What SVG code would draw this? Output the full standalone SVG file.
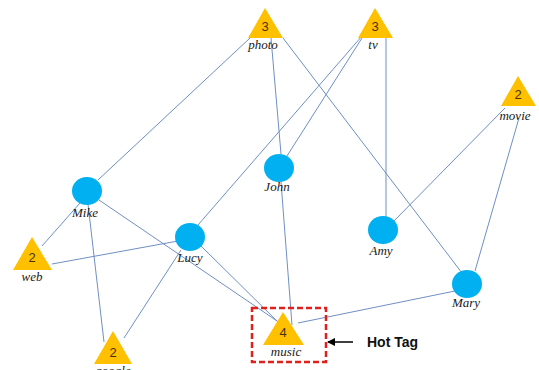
<svg xmlns="http://www.w3.org/2000/svg" width="539" height="370" viewBox="0 0 539 370">
<defs>
<style>
.e{stroke:#6f8fc4;stroke-width:1;fill:none}
.tag{fill:#ffc000}
.usr{fill:#00b0f0}
.num{font-family:"Liberation Sans",Arial,sans-serif;font-size:13px;fill:#4a3200;text-anchor:middle}
.lbl{font-family:"Liberation Serif","Times New Roman",serif;font-style:italic;font-size:13px;fill:#1a1a1a;text-anchor:middle}
.hot{font-family:"Liberation Sans",Arial,sans-serif;font-weight:bold;font-size:14px;fill:#111}
</style>
<marker id="ah" markerWidth="8" markerHeight="8" refX="7" refY="4" orient="auto" markerUnits="userSpaceOnUse">
<path d="M0,0 L8,4 L0,8 z" fill="#000"/>
</marker>
</defs>
<rect width="539" height="370" fill="#fff"/>
<g id="connectors">
<line class="e" x1="250" y1="38" x2="98" y2="180"/>
<line class="e" x1="271" y1="38" x2="281" y2="154"/>
<line class="e" x1="283" y1="38" x2="462" y2="273"/>
<line class="e" x1="362" y1="38" x2="287" y2="156"/>
<line class="e" x1="362" y1="36" x2="198" y2="225"/>
<line class="e" x1="386" y1="38" x2="386" y2="217"/>
<line class="e" x1="505" y1="108" x2="393" y2="222"/>
<line class="e" x1="519" y1="118" x2="475" y2="271"/>
<line class="e" x1="80" y1="203" x2="42" y2="246"/>
<line class="e" x1="88" y1="204" x2="104" y2="342"/>
<line class="e" x1="99" y1="200" x2="280" y2="323"/>
<line class="e" x1="178" y1="241" x2="52" y2="264"/>
<line class="e" x1="181" y1="250" x2="124" y2="338"/>
<line class="e" x1="200" y1="245" x2="281" y2="325"/>
<line class="e" x1="281" y1="182" x2="292" y2="325"/>
<line class="e" x1="455" y1="291" x2="298" y2="323"/>
</g>
<g id="photo"><polygon class="tag" points="265,8 248,38 283,38"/><text class="num" x="265" y="31">3</text><text class="lbl" x="263" y="49">photo</text></g>
<g id="tv"><polygon class="tag" points="375,8 358,38 393,38"/><text class="num" x="375" y="31">3</text><text class="lbl" x="373" y="49">tv</text></g>
<g id="movie"><polygon class="tag" points="518,76 501,106 536,106"/><text class="num" x="518" y="99">2</text><text class="lbl" x="515" y="120">movie</text></g>
<g id="web"><polygon class="tag" points="32,237 13,270 52,270"/><text class="num" x="32" y="262">2</text><text class="lbl" x="32" y="281">web</text></g>
<g id="google"><polygon class="tag" points="113,331 94,364 132,364"/><text class="num" x="113" y="357">2</text><text class="lbl" x="113" y="375">google</text></g>
<g id="music"><polygon class="tag" points="283,312 263,345 304,345"/><text class="num" x="283" y="337">4</text><text class="lbl" x="286" y="356">music</text></g>
<g id="Mike"><ellipse class="usr" cx="87" cy="191" rx="15" ry="14"/><text class="lbl" x="85" y="217">Mike</text></g>
<g id="Lucy"><ellipse class="usr" cx="190" cy="237" rx="15" ry="14"/><text class="lbl" x="190" y="262">Lucy</text></g>
<g id="John"><ellipse class="usr" cx="279" cy="168" rx="15" ry="14"/><text class="lbl" x="277" y="191">John</text></g>
<g id="Amy"><ellipse class="usr" cx="383" cy="230" rx="15" ry="14"/><text class="lbl" x="381" y="255">Amy</text></g>
<g id="Mary"><ellipse class="usr" cx="467" cy="284" rx="15" ry="14"/><text class="lbl" x="466" y="307">Mary</text></g>
<g id="hot-tag">
<rect x="252" y="308" width="74" height="54" fill="none" stroke="#e0201c" stroke-width="2.5" stroke-dasharray="6,3"/>
<line x1="353" y1="342" x2="328" y2="342" stroke="#000" stroke-width="1.5" marker-end="url(#ah)"/>
<text class="hot" x="367" y="347">Hot  Tag</text>
</g>
</svg>
